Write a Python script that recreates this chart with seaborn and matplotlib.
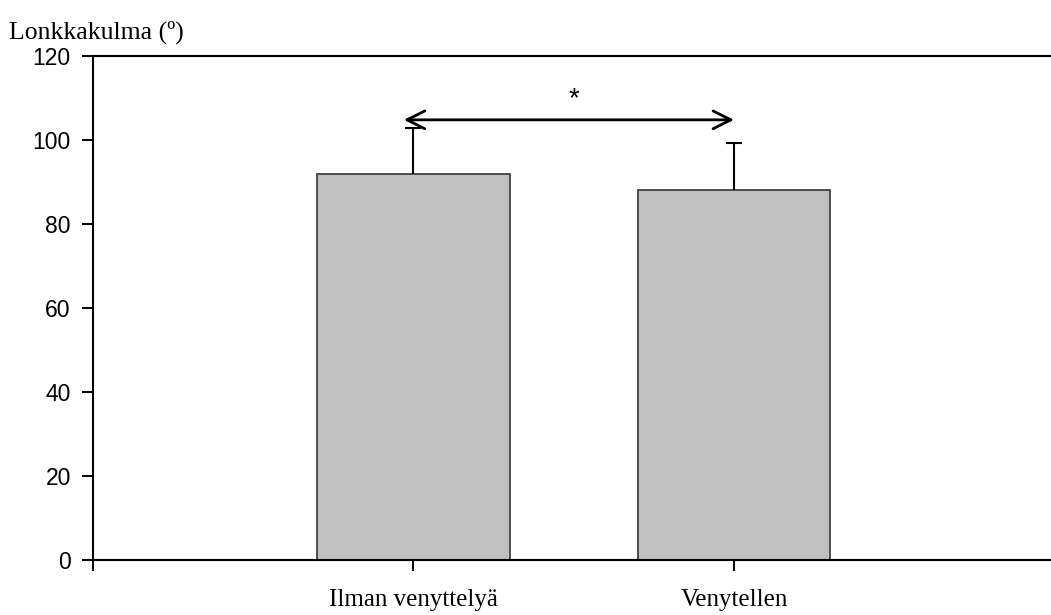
import matplotlib
matplotlib.use("Agg")
import matplotlib.pyplot as plt
import seaborn as sns
import pandas as pd

categories = ["Ilman venyttelyä", "Venytellen"]
means = [91.8, 88.0]
sd = [11.0, 11.2]
y_ticks = [0, 20, 40, 60, 80, 100, 120]
ylabel = "Lonkkakulma (º)"
signif_label = "*"
signif_level = 104.8

sns.set_theme(style="white")
plt.rcParams["font.family"] = ["Liberation Sans", "DejaVu Sans"]
plt.rcParams["text.color"] = "black"
plt.rcParams["xtick.color"] = "black"
plt.rcParams["ytick.color"] = "black"

df = pd.DataFrame({"group": categories, "angle": means})

fig = plt.figure(figsize=(10.51, 6.15), dpi=100)
ax = fig.add_axes([0.0885, 0.089, 0.9148, 0.82])

sns.barplot(data=df, x="group", y="angle", ax=ax, color="#c0c0c0",
            edgecolor="#333333", linewidth=1.2, width=0.6, saturation=1,
            errorbar=None)

# one-sided (upper) error bars
_, caps, _ = ax.errorbar(range(len(categories)), means,
                         yerr=[[0] * len(sd), sd], fmt="none",
                         ecolor="black", elinewidth=1.5, capsize=6,
                         capthick=1.5)
caps[0].set_visible(False)

ax.set_xlim(-1, 2.0)
ax.set_ylim(0, 120)
ax.set_yticks(y_ticks)
ax.set_yticklabels([str(t) for t in y_ticks], fontsize=16.5)
ax.set_xticks([-1, 0, 1])
ax.set_xticklabels(["", categories[0], categories[1]],
                   fontfamily="Liberation Serif", fontsize=18)
ax.set_xlabel("")
ax.set_ylabel("")
ax.tick_params(axis="both", direction="out", length=8, width=1.4,
               color="black", labelcolor="black", bottom=True, left=True)
ax.tick_params(axis="x", pad=13)
ax.tick_params(axis="y", pad=8)

for side in ["left", "bottom", "top"]:
    ax.spines[side].set_visible(True)
    ax.spines[side].set_color("black")
    ax.spines[side].set_linewidth(1.5)
ax.spines["right"].set_visible(False)

# significance bracket
ax.annotate("", xy=(-0.03, signif_level), xytext=(1.0, signif_level),
            arrowprops=dict(arrowstyle="<->", color="black", lw=2,
                            mutation_scale=32, shrinkA=0, shrinkB=0))
ax.text(0.5, signif_level + 5.0, signif_label, ha="center", va="center",
        fontsize=20, color="black")

fig.text(0.009, 0.948, ylabel, fontfamily="Liberation Serif", fontsize=18.5,
         ha="left", va="center", color="black")

fig.savefig("out.png", dpi=100, facecolor="white")
